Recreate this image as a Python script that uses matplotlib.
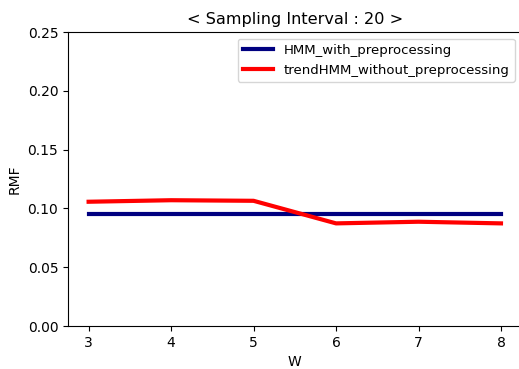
import matplotlib
matplotlib.use("Agg")
import matplotlib.pyplot as plt

w_values = [3, 4, 5, 6, 7, 8]
hmm_with = [0.0952, 0.0952, 0.0952, 0.0952, 0.0952, 0.0952]
trend_without = [0.1057, 0.1070, 0.1065, 0.0873, 0.0887, 0.0873]

fig = plt.figure(figsize=(5.19, 3.69), dpi=100)
ax = fig.add_axes([0.131, 0.1165, 0.874, 0.7965])
ax.plot(w_values, hmm_with, color="navy", linewidth=3, label="HMM_with_preprocessing")
ax.plot(w_values, trend_without, color="red", linewidth=3, label="trendHMM_without_preprocessing")
ax.set_ylim(0, 0.25)
ax.set_yticks([0.0, 0.05, 0.10, 0.15, 0.20, 0.25])
ax.set_yticklabels(["0.00", "0.05", "0.10", "0.15", "0.20", "0.25"])
ax.set_xlabel("W")
ax.set_ylabel("RMF")
ax.set_title("< Sampling Interval : 20 >", fontsize=11.6)
ax.legend(loc="upper right", fontsize=9.5, handlelength=2.3)
fig.savefig("out.png", dpi=100)
